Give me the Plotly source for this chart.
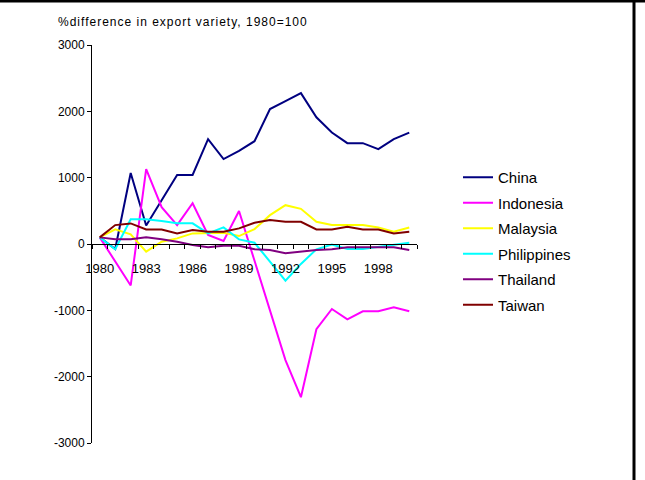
import plotly.graph_objects as go

years = list(range(1980, 2001))
label_years = [1980, 1983, 1986, 1989, 1992, 1995, 1998]
y_ticks = [-3000, -2000, -1000, 0, 1000, 2000, 3000]
y_tick_text = ["-3000", "-2000", "-1000", "0", "1000", "2000", "3000"]

china = [100, -75, 1070, 280, 660, 1040, 1040, 1580, 1280, 1405, 1550,
         2035, 2155, 2275, 1910, 1680, 1520, 1520, 1430, 1580, 1680]
indonesia = [100, -260, -625, 1130, 555, 285, 615, 135, 45, 498, -250,
             -1010, -1750, -2310, -1285, -980, -1135, -1015, -1015, -955, -1015]
malaysia = [100, 220, 145, -115, 35, 85, 160, 170, 170, 120, 225,
            435, 585, 530, 335, 285, 285, 285, 250, 185, 250]
philippines = [100, -80, 372, 372, 345, 312, 312, 160, 250, 70, 20,
               -265, -553, -300, -80, -10, -75, -75, -40, -10, 20]
thailand = [100, 70, 70, 100, 70, 35, -15, -50, -25, -25, -80,
            -90, -140, -115, -90, -80, -50, -50, -50, -50, -90]
taiwan = [100, 285, 310, 220, 220, 160, 210, 185, 185, 235, 320,
          360, 335, 335, 220, 220, 260, 220, 220, 160, 185]

series = [
    ("China", china, "#000080"),
    ("Indonesia", indonesia, "#FF00FF"),
    ("Malaysia", malaysia, "#FFFF00"),
    ("Philippines", philippines, "#00FFFF"),
    ("Thailand", thailand, "#800080"),
    ("Taiwan", taiwan, "#800000"),
]

FONT = "Liberation Sans, Arial, sans-serif"

fig = go.Figure()
for name, vals, col in series:
    fig.add_trace(go.Scatter(x=years, y=vals, name=name, mode="lines",
                             line=dict(color=col, width=2), legendgroup=name))

# helper trace for the label axis
fig.add_trace(go.Scatter(x=[years[0], years[-1]], y=[0, 0], xaxis="x2",
                         mode="lines", line=dict(width=0), opacity=0,
                         showlegend=False, hoverinfo="skip"))

L, T, W, H = 92, 45, 325, 398

def px_x(p):
    return (p - L) / W

def px_y(p):
    return (T + H - p) / H

fig.update_layout(
    width=645, height=480,
    margin=dict(l=L, r=645 - L - W, t=T, b=480 - T - H),
    paper_bgcolor="white", plot_bgcolor="white",
    font=dict(family=FONT, size=12, color="black"),
    showlegend=True,
    legend=dict(x=px_x(458), y=px_y(161), xanchor="left", yanchor="top",
                font=dict(size=15, family=FONT), tracegroupgap=3,
                bgcolor="rgba(0,0,0,0)"),
    xaxis=dict(range=[1979.5, 2000.5], anchor="free", position=0.5,
               showline=True, linecolor="black", linewidth=1,
               tickvals=[y - 0.5 for y in years] + [2000.5],
               showticklabels=False, ticks="outside", ticklen=4,
               tickcolor="black", showgrid=False, zeroline=False),
    xaxis2=dict(overlaying="x", matches="x", anchor="free", position=0.5,
                showline=False, tickvals=label_years,
                ticktext=[str(y) for y in label_years],
                ticks="", ticklabelstandoff=15, showgrid=False,
                zeroline=False, tickfont=dict(size=13, family=FONT)),
    yaxis=dict(range=[-3000, 3000], tickvals=y_ticks, ticktext=y_tick_text,
               showline=True, linecolor="black", linewidth=1,
               ticks="outside", ticklen=4, tickcolor="black",
               showgrid=False, zeroline=False,
               tickfont=dict(size=12, family=FONT)),
    annotations=[dict(text="<span style='letter-spacing:1px'>%difference in export variety, 1980=100</span>",
                      xref="paper", yref="paper", x=px_x(56), y=px_y(22),
                      xanchor="left", yanchor="middle", showarrow=False,
                      font=dict(size=12, family=FONT))],
    shapes=[
        dict(type="line", xref="paper", yref="paper",
             x0=px_x(0), x1=px_x(645), y0=px_y(1), y1=px_y(1),
             line=dict(color="black", width=3)),
        dict(type="line", xref="paper", yref="paper",
             x0=px_x(634), x1=px_x(634), y0=px_y(0), y1=px_y(480),
             line=dict(color="black", width=3)),
    ],
)

fig.write_html("out.html", config={"displayModeBar": False},
               post_script="document.body.style.margin='0';document.body.style.overflow='hidden';")
